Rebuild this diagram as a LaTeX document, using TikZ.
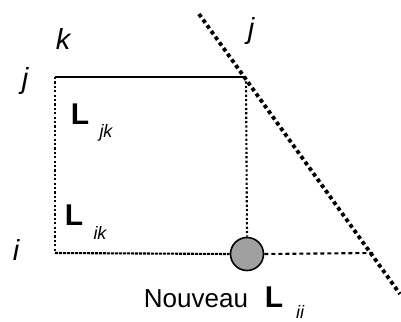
\documentclass[tikz,border=0pt]{standalone}
\usepackage{fontspec}
\setmainfont{Liberation Sans}
\definecolor{nodegray}{RGB}{160,160,160}
\begin{document}
\begin{tikzpicture}[x=1pt,y=-1pt,
  lbl/.style={inner sep=0pt,anchor=base,font=\fontsize{29}{29}\selectfont\itshape},
  bigL/.style={inner sep=0pt,anchor=base,font=\fontsize{30}{30}\selectfont\bfseries},
  sub/.style={inner sep=0pt,anchor=base,font=\fontsize{18}{18}\selectfont\itshape},
  captext/.style={inner sep=0pt,anchor=base,font=\fontsize{26}{26}\selectfont},
  dotline/.style={line width=2.1pt,dash pattern=on 2.2pt off 2.2pt},
  fineline/.style={line width=2.1pt,dash pattern=on 3pt off 1pt},
  dashline/.style={line width=2.1pt,dash pattern=on 4pt off 3pt},
  bigdots/.style={line width=3.8pt,dash pattern=on 3.8pt off 3.2pt}]
\useasboundingbox (0,0) rectangle (401,321);
% corners
\coordinate (TL) at (55,77);
\coordinate (TR) at (246,77);
\coordinate (BL) at (55,253);
\coordinate (HE) at (373,253);
\coordinate (DA) at (199,14);
\coordinate (DB) at (400,294);
% new element
\node[circle,draw,line width=1.6pt,fill=nodegray,minimum size=33pt,inner sep=0pt] (C) at (247,254) {};
% lines
\draw[line width=1.7pt] (TL) -- (TR);
\draw[dotline] (TL) -- (BL);
\draw[fineline] (BL) -- (C.west);
\draw[dotline] (TR) -- (C.north);
\draw[dashline] (C.east) -- (HE);
\draw[bigdots] (DA) -- (DB);
% labels
\node[lbl] (k) at (63,49) {k};
\node[lbl] (jl) at (25,88) {j};
\node[lbl] (jt) at (251,39) {j};
\node[lbl] (i) at (16,260) {i};
\node[bigL] (Ljk) at (80,124) {L};
\node[sub] (sjk) at (106,137) {jk};
\node[bigL] (Lik) at (74,225) {L};
\node[sub] (sik) at (100,239) {ik};
\node[captext] (nv) at (196,307) {Nouveau};
\node[bigL] (Lii) at (274,307) {L};
\node[sub] (sii) at (300,318) {ii};
\end{tikzpicture}
\end{document}
